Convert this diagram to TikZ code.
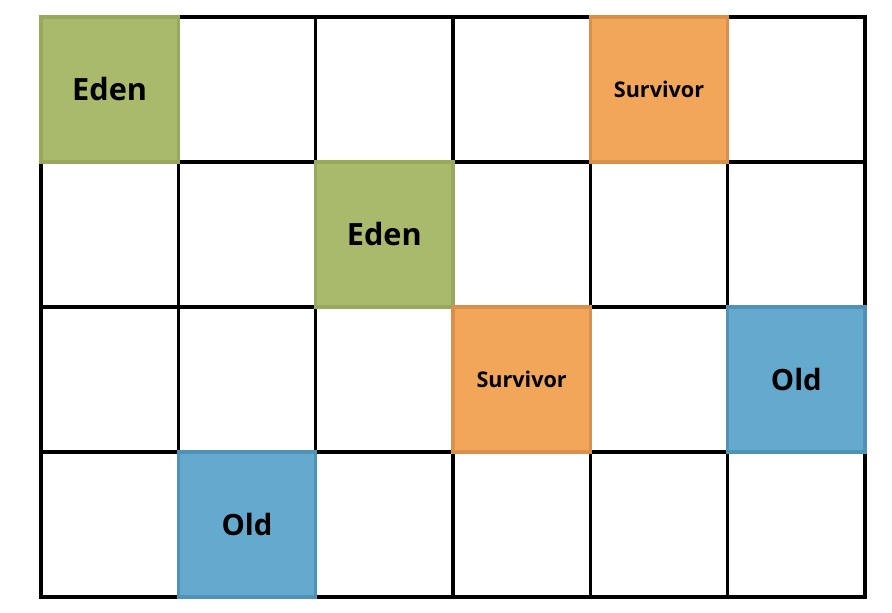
\documentclass[tikz,border=0pt]{standalone}
\usepackage{fontspec}
\setmainfont{Open Sans}
\usetikzlibrary{positioning}

\definecolor{edenfill}{HTML}{A9BA6D}
\definecolor{edenline}{HTML}{98A85C}
\definecolor{survfill}{HTML}{F2A65A}
\definecolor{survline}{HTML}{DA8F4A}
\definecolor{oldfill}{HTML}{64AACE}
\definecolor{oldline}{HTML}{4F92B5}

\begin{document}
\begin{tikzpicture}[node distance=0pt,
    cell/.style={draw, rectangle, line width=2.4pt, minimum width=103pt, minimum height=108.75pt, inner sep=0pt, outer sep=0pt},
    eden/.style={cell, fill=edenfill, draw=edenline, text=black, font=\bfseries\fontsize{23}{24}\selectfont},
    surv/.style={cell, fill=survfill, draw=survline, text=black, font=\bfseries\fontsize{16.2}{17}\selectfont},
    old/.style={cell, fill=oldfill, draw=oldline, text=black, font=\bfseries\fontsize{22}{23}\selectfont}]
                \useasboundingbox (0,0) rectangle (669pt,459pt);

                % empty cells first
                \node (c12) [cell] at (185.25pt,391.9pt) {};
                \node (c13) [cell, right=of c12] {};
                \node (c14) [cell, right=of c13] {};
                \node (c22) [cell, below=of c12] {};
                \node (c21) [cell, left=of c22] {};
                \node (c24) [cell, below=of c14] {};
                \node (c25) [cell, right=of c24] {};
                \node (c26) [cell, right=of c25] {};
                \node (c16) [cell, above=of c26] {};
                \node (c31) [cell, below=of c21] {};
                \node (c32) [cell, below=of c22] {};
                \node (c33) [cell, right=of c32] {};
                \node (c35) [cell, below=of c25] {};
                \node (c41) [cell, below=of c31] {};
                \node (c43) [cell, below=of c33] {};
                \node (c44) [cell, right=of c43] {};
                \node (c45) [cell, right=of c44] {};
                \node (c46) [cell, right=of c45] {};

                % regions on top
                \node (c11) [eden, left=of c12] {Eden};
                \node (c15) [surv, right=of c14] {Survivor};
                \node (c23) [eden, right=of c22] {Eden};
                \node (c34) [surv, right=of c33] {Survivor};
                \node (c36) [old, right=of c35] {Old};
                \node (c42) [old, right=of c41] {Old};
            \end{tikzpicture}
\end{document}
